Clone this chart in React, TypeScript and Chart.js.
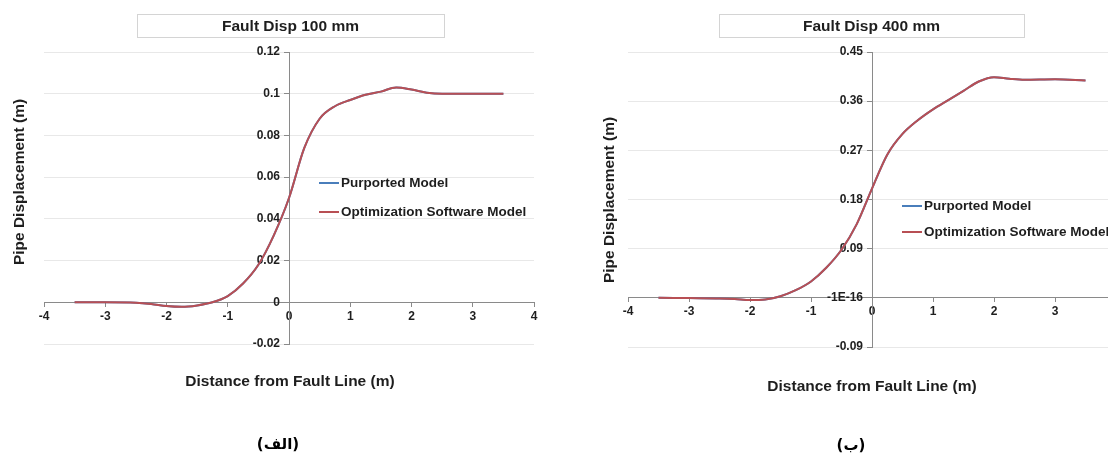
import React, { useEffect, useRef } from "react";
import { Chart, registerables } from "chart.js";

Chart.register(...registerables);

// ---------- data ----------
const distanceA = [-3.5, -3, -2.5, -2.25, -2, -1.75, -1.5, -1.25, -1, -0.75, -0.5, -0.25, 0, 0.25, 0.5, 0.75, 1, 1.25, 1.5, 1.75, 2, 2.25, 2.5, 3, 3.5];
const purportedA = [0, 0, -0.0002, -0.0008, -0.0018, -0.0022, -0.0015, 0, 0.003, 0.009, 0.018, 0.032, 0.05, 0.074, 0.088, 0.094, 0.097, 0.0995, 0.101, 0.103, 0.102, 0.1005, 0.1, 0.1, 0.1];
const optimizationA = [0, 0, -0.0002, -0.0008, -0.0018, -0.0022, -0.0015, 0, 0.003, 0.009, 0.018, 0.032, 0.05, 0.074, 0.088, 0.094, 0.097, 0.0995, 0.101, 0.103, 0.102, 0.1005, 0.1, 0.1, 0.1];

const distanceB = [-3.5, -3, -2.5, -2.25, -2, -1.75, -1.5, -1.25, -1, -0.75, -0.5, -0.25, 0, 0.25, 0.5, 0.75, 1, 1.25, 1.5, 1.75, 2, 2.25, 2.5, 3, 3.5];
const purportedB = [0, -0.0005, -0.001, -0.002, -0.004, -0.003, 0.003, 0.014, 0.03, 0.055, 0.088, 0.135, 0.2, 0.262, 0.3, 0.325, 0.345, 0.362, 0.379, 0.396, 0.404, 0.401, 0.399, 0.4, 0.398];
const optimizationB = [0, -0.0005, -0.001, -0.002, -0.004, -0.003, 0.003, 0.014, 0.03, 0.055, 0.088, 0.135, 0.2, 0.262, 0.3, 0.325, 0.345, 0.362, 0.379, 0.396, 0.404, 0.401, 0.399, 0.4, 0.398];

const xTickValues = [-4, -3, -2, -1, 0, 1, 2, 3, 4];
const xTickLabels = ["-4", "-3", "-2", "-1", "0", "1", "2", "3", "4"];

const yTickValuesA = [-0.02, 0, 0.02, 0.04, 0.06, 0.08, 0.1, 0.12];
const yTickLabelsA = ["-0.02", "0", "0.02", "0.04", "0.06", "0.08", "0.1", "0.12"];

const yTickValuesB = [-0.09, 0, 0.09, 0.18, 0.27, 0.36, 0.45];
const yTickLabelsB = ["-0.09", "-1E-16", "0.09", "0.18", "0.27", "0.36", "0.45"];

const seriesNames = ["Purported Model", "Optimization Software Model"];
const titles = ["Fault Disp 100 mm", "Fault Disp 400 mm"];
const captions = ["(الف)", "(ب)"];
const xAxisTitle = "Distance from Fault Line (m)";
const yAxisTitle = "Pipe Displacement (m)";

// ---------- styling ----------
const FONT = "'Liberation Sans', Arial, sans-serif";
const BLUE = "#4A7EBB";
const RED = "#B84F54";
const AXIS = "#8a8a8a";
const GRID = "#e8e8e8";
const TEXT = "#1e1e1e";

type Layout = {
  canvasLeft: number;
  canvasWidth: number;
  padding: { left: number; right: number; top: number; bottom: number };
  titleBox: [number, number, number, number];
  yTitle: [number, number];
  xTitle: [number, number];
  legend: [number, number, number];
  caption: [number, number];
};

type PanelProps = {
  title: string;
  caption: string;
  xs: number[];
  s1: number[];
  s2: number[];
  yMin: number;
  yMax: number;
  yTicks: number[];
  yLabels: string[];
  layout: Layout;
};

function Panel(p: PanelProps) {
  const ref = useRef<HTMLCanvasElement | null>(null);

  useEffect(() => {
    const canvas = ref.current;
    if (!canvas) return;
    const L = p.layout;

    const decor = {
      id: "decor",
      afterDraw(chart: any) {
        const ctx = chart.ctx as CanvasRenderingContext2D;
        ctx.save();
        // title box
        const [bx1, by1, bx2, by2] = L.titleBox;
        ctx.fillStyle = "#ffffff";
        ctx.fillRect(bx1, by1, bx2 - bx1, by2 - by1);
        ctx.strokeStyle = "#d4d4d4";
        ctx.lineWidth = 1;
        ctx.strokeRect(bx1 + 0.5, by1 + 0.5, bx2 - bx1, by2 - by1);
        ctx.fillStyle = TEXT;
        ctx.font = `bold 15.5px ${FONT}`;
        ctx.textAlign = "center";
        ctx.textBaseline = "middle";
        ctx.fillText(p.title, (bx1 + bx2) / 2, (by1 + by2) / 2 + 1);

        // x axis title
        ctx.fillText(xAxisTitle, L.xTitle[0], L.xTitle[1]);

        // y axis title
        ctx.save();
        ctx.translate(L.yTitle[0], L.yTitle[1]);
        ctx.rotate(-Math.PI / 2);
        ctx.fillText(yAxisTitle, 0, 0);
        ctx.restore();

        // legend
        const [lx, ly, gap] = L.legend;
        ctx.font = `bold 13.5px ${FONT}`;
        ctx.textAlign = "left";
        chart.data.datasets.forEach((ds: any, i: number) => {
          const y = ly + i * gap;
          ctx.strokeStyle = ds.borderColor;
          ctx.lineWidth = 2;
          ctx.beginPath();
          ctx.moveTo(lx, y);
          ctx.lineTo(lx + 20, y);
          ctx.stroke();
          ctx.fillStyle = TEXT;
          ctx.fillText(ds.label, lx + 22, y);
        });

        // caption
        ctx.font = `bold 15px 'DejaVu Sans', sans-serif`;
        ctx.textAlign = "center";
        ctx.fillStyle = "#000";
        ctx.fillText(p.caption, L.caption[0], L.caption[1]);
        ctx.restore();
      },
    };

    const chart = new Chart(canvas, {
      type: "line",
      data: {
        datasets: [
          {
            label: seriesNames[0],
            data: p.xs.map((x, i) => ({ x, y: p.s1[i] })),
            borderColor: BLUE,
            backgroundColor: BLUE,
            borderWidth: 2,
            pointRadius: 0,
            cubicInterpolationMode: "monotone",
            fill: false,
            order: 1,
          },
          {
            label: seriesNames[1],
            data: p.xs.map((x, i) => ({ x, y: p.s2[i] })),
            borderColor: RED,
            backgroundColor: RED,
            borderWidth: 2,
            pointRadius: 0,
            cubicInterpolationMode: "monotone",
            fill: false,
            order: 0,
          },
        ],
      },
      options: {
        animation: false,
        responsive: false,
        maintainAspectRatio: false,
        layout: { padding: L.padding },
        plugins: {
          legend: { display: false },
          title: { display: false },
          tooltip: { enabled: false },
        },
        scales: {
          x: {
            type: "linear",
            min: -4,
            max: 4,
            position: { y: 0 } as any,
            afterBuildTicks: (s: any) => {
              s.ticks = xTickValues.map((v) => ({ value: v }));
            },
            ticks: {
              autoSkip: false,
              maxRotation: 0,
              padding: 3,
              color: TEXT,
              font: { family: FONT, size: 12, weight: "bold" },
              callback: (_v: any, i: number) => xTickLabels[i],
            },
            grid: {
              drawOnChartArea: false,
              drawTicks: true,
              tickLength: 4,
              color: AXIS,
              tickColor: AXIS,
            },
            border: { display: true, color: AXIS, width: 1 },
          },
          y: {
            type: "linear",
            min: p.yMin,
            max: p.yMax,
            position: "center",
            afterBuildTicks: (s: any) => {
              s.ticks = p.yTicks.map((v) => ({ value: v }));
            },
            ticks: {
              autoSkip: false,
              padding: 4,
              color: TEXT,
              font: { family: FONT, size: 12, weight: "bold" },
              callback: (_v: any, i: number) => p.yLabels[i],
            },
            grid: {
              drawOnChartArea: true,
              drawTicks: true,
              tickLength: 5,
              color: GRID,
              tickColor: AXIS,
            },
            border: { display: true, color: AXIS, width: 1 },
          },
        },
      },
      plugins: [decor],
    } as any);

    return () => chart.destroy();
  }, []);

  const L = p.layout;
  return (
    <canvas
      ref={ref}
      width={L.canvasWidth}
      height={455}
      style={{
        position: "absolute",
        left: L.canvasLeft,
        top: 0,
        width: L.canvasWidth,
        height: 455,
      }}
    />
  );
}

const layoutA: Layout = {
  canvasLeft: 0,
  canvasWidth: 554,
  padding: { left: 44, right: 20, top: 52, bottom: 111 },
  titleBox: [137, 14, 444, 37],
  yTitle: [20, 182],
  xTitle: [290, 382],
  legend: [319, 183, 29],
  caption: [278, 445],
};

const layoutB: Layout = {
  canvasLeft: 560,
  canvasWidth: 600,
  padding: { left: 68, right: 44, top: 52, bottom: 108 },
  titleBox: [159, 14, 464, 37],
  yTitle: [50, 200],
  xTitle: [312, 387],
  legend: [342, 206, 26],
  caption: [291, 446],
};

export default function App() {
  return (
    <div
      style={{
        position: "absolute",
        left: 0,
        top: 0,
        width: 1108,
        height: 455,
        overflow: "hidden",
        background: "#ffffff",
      }}
    >
      <Panel
        title={titles[0]}
        caption={captions[0]}
        xs={distanceA}
        s1={purportedA}
        s2={optimizationA}
        yMin={-0.02}
        yMax={0.12}
        yTicks={yTickValuesA}
        yLabels={yTickLabelsA}
        layout={layoutA}
      />
      <Panel
        title={titles[1]}
        caption={captions[1]}
        xs={distanceB}
        s1={purportedB}
        s2={optimizationB}
        yMin={-0.09}
        yMax={0.45}
        yTicks={yTickValuesB}
        yLabels={yTickLabelsB}
        layout={layoutB}
      />
    </div>
  );
}
